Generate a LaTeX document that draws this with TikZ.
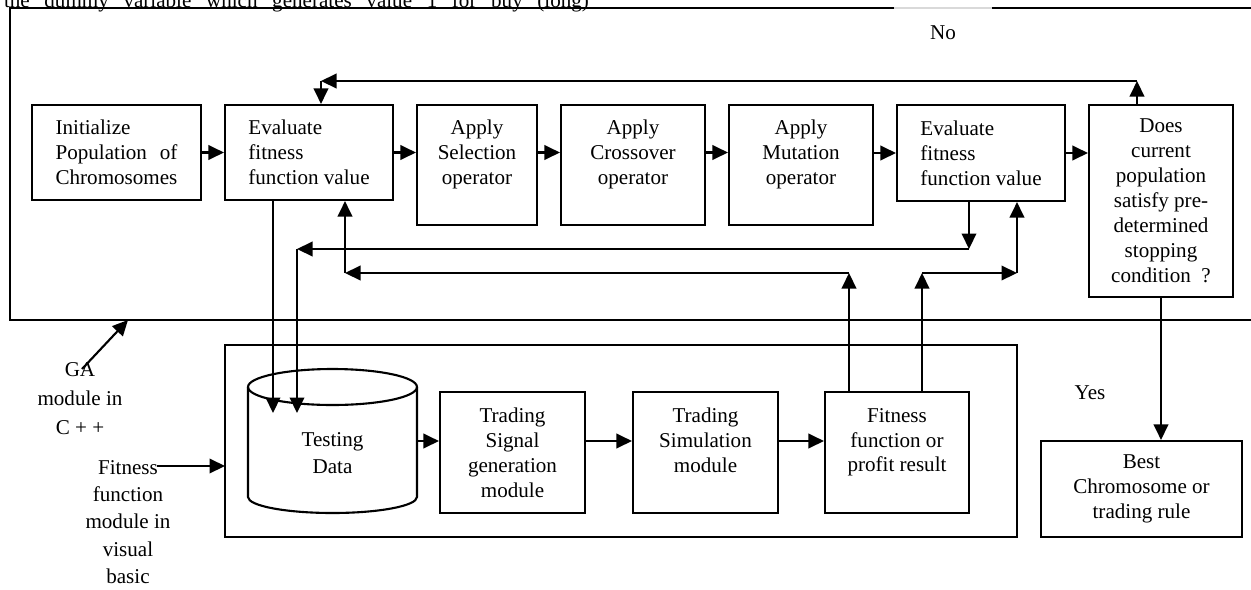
\documentclass[tikz,border=0pt]{standalone}
\usepackage{fontspec}
\setmainfont{Liberation Serif}
\usetikzlibrary{arrows.meta}

\tikzset{
        box/.style={draw, inner sep=0pt, align=center},
        leftbox/.style={draw, inner sep=0pt, align=left},
        arr/.style={-{Triangle[length=0.31cm,width=0.29cm]}}
}

\begin{document}
\begin{tikzpicture}[x=0.02cm, y=-0.02cm, line width=1.2pt, font=\fontsize{12pt}{14.2pt}\selectfont]
        \useasboundingbox (0,0) rectangle (1251,589);
        \node[anchor=base west, inner sep=0pt] (head) at (3,7) {\makebox[11.7cm][s]{the dummy variable which generates value 1 for buy (long)}};
        \draw (1260,8) -- (992,8);
        \draw[gray!30, line width=0.6pt] (992,8) -- (894,8);
        \draw (894,8) -- (10,8) -- (10,320) -- (1260,320);
        \draw (225,345) rectangle (1017,537);
        \draw (248,387) -- (248,497) arc[start angle=180, end angle=360, x radius=1.69cm, y radius=0.32cm] -- (417,387);
        \draw (332.5,387) ellipse [x radius=1.69cm, y radius=0.36cm];

        \node[leftbox, minimum width=3.38cm, minimum height=1.9cm] (init) at (116.5,152.5) {Initialize\\Population\hspace{7.3pt}of\\Chromosomes};
        \node[leftbox, minimum width=3.36cm, minimum height=1.9cm] (evalA) at (309,152.5) {Evaluate\\fitness\\function value};
        \node[box, minimum width=2.4cm, minimum height=2.4cm] (select) at (477,165) {Apply\\Selection\\operator\\~};
        \node[box, minimum width=2.88cm, minimum height=2.4cm] (cross) at (633,165) {Apply\\Crossover\\operator\\~};
        \node[box, minimum width=2.88cm, minimum height=2.4cm] (mutate) at (801,165) {Apply\\Mutation\\operator\\~};
        \node[leftbox, minimum width=3.36cm, minimum height=1.92cm] (evalB) at (981,153) {Evaluate\\fitness\\function value};
        \node[box, minimum width=2.88cm, minimum height=3.84cm] (stop) at (1161,201) {Does\\current\\population\\satisfy pre-\\determined\\stopping\\condition\ \ ?};
        \node[box, minimum width=4.02cm, minimum height=1.92cm] (best) at (1141.5,489) {Best\\Chromosome or\\trading rule};

        \node[align=center, font=\fontsize{12pt}{15.3pt}\selectfont] (data) at (332.5,453.5) {Testing\\Data};
        \node[box, minimum width=2.9cm, minimum height=2.42cm] (signal) at (512.5,452.5) {Trading\\Signal\\generation\\module};
        \node[box, minimum width=2.9cm, minimum height=2.42cm] (sim) at (705.5,452.5) {Trading\\Simulation\\module\\~};
        \node[box, minimum width=2.88cm, minimum height=2.42cm] (fit) at (897,452.5) {Fitness\\function or\\profit result\\~};

        \node (no) at (943,33) {No};
        \node (yes) at (1090,393) {Yes};
        \node[align=center, font=\fontsize{12pt}{16.5pt}\selectfont] (ga) at (80,399) {GA\\module in\\C + +};
        \node[align=center, font=\fontsize{12pt}{15.6pt}\selectfont] (ffm) at (128,522) {Fitness\\function\\module in\\visual\\basic};

        \draw[arr] (init) -- (evalA);
        \draw[arr] (evalA.east) -- (evalA.east -| select.west);
        \draw[arr] (select.east |- evalA.east) -- (cross.west |- evalA.east);
        \draw[arr] (cross.east |- evalA.east) -- (mutate.west |- evalA.east);
        \draw[arr] (mutate.east |- evalB.west) -- (evalB.west);
        \draw[arr] (evalB.east) -- (evalB.east -| stop.west);

        \coordinate (backR) at (1137,81);
        \coordinate (backL) at (321,81);
        \draw[arr] (stop.north -| backR) -- (backR);
        \draw[arr] (backR) -- (backL);
        \draw[arr] (backL) -- (evalA.north -| backL);

        \coordinate (inA) at (273,413);
        \coordinate (inB) at (297,413);
        \coordinate (turnB) at (297,249);
        \coordinate (outB) at (969,249);
        \draw[arr] (evalA.south -| inA) -- (inA);
        \draw[arr] (evalB.south -| outB) -- (outB);
        \draw[arr] (outB) -- (turnB);
        \draw[arr] (turnB) -- (inB);

        \coordinate (upL) at (849,273);
        \coordinate (backA) at (345,273);
        \coordinate (upR) at (922,273);
        \coordinate (backB) at (1017,273);
        \draw[arr] (fit.north -| upL) -- (upL);
        \draw[arr] (upL) -- (backA);
        \draw[arr] (backA) -- (evalA.south -| backA);
        \draw[arr] (fit.north -| upR) -- (upR);
        \draw[arr] (upR) -- (backB);
        \draw[arr] (backB) -- (evalB.south -| backB);

        \coordinate (dataE) at (417,441);
        \draw[arr] (dataE) -- (dataE -| signal.west);
        \draw[arr] (signal.east |- dataE) -- (sim.west |- dataE);
        \draw[arr] (sim.east |- dataE) -- (fit.west |- dataE);
        \draw[arr] (stop.south) -- (stop.south |- best.north);

        \coordinate (gaTail) at (82,369);
        \coordinate (gaTip) at (128,320);
        \draw[arr] (gaTail) -- (gaTip);
        \coordinate (ffmTail) at (157,466);
        \coordinate (ffmTip) at (225,466);
        \draw[arr] (ffmTail) -- (ffmTip);
\end{tikzpicture}
\end{document}
